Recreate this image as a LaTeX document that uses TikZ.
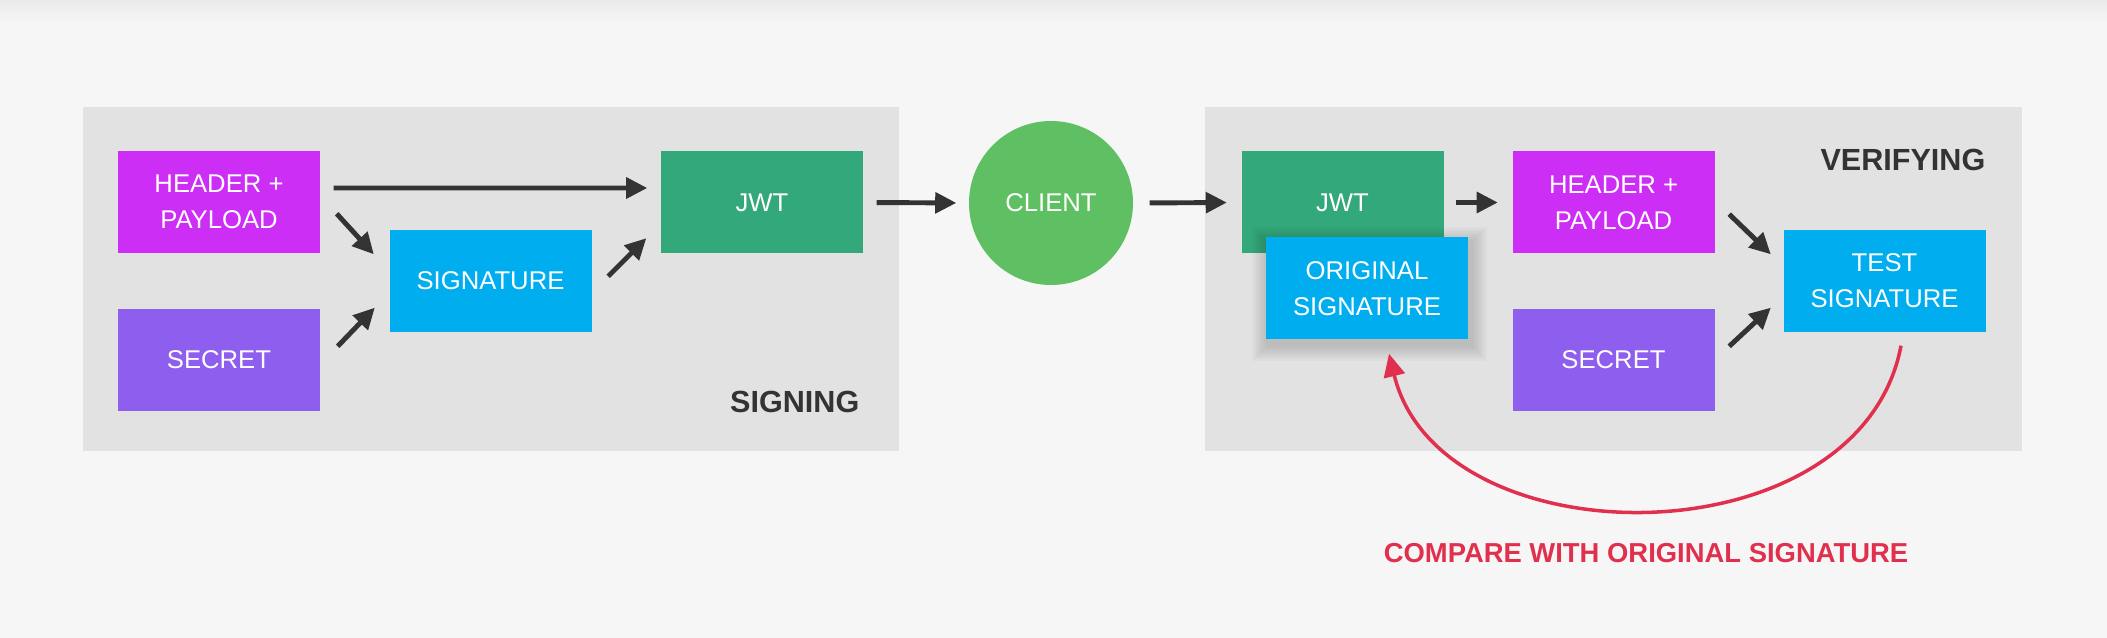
\documentclass[tikz,border=0pt]{standalone}
\usepackage{fontspec}
\setmainfont{Liberation Sans}
\usepackage{xcolor}
\usetikzlibrary{arrows.meta, calc}

\definecolor{bggrey}{HTML}{F6F6F6}
\definecolor{topgrey}{HTML}{EAEAEA}
\definecolor{panelgrey}{HTML}{E2E2E2}
\definecolor{hpcol}{HTML}{CC2EF5}
\definecolor{seccol}{HTML}{8E5FEE}
\definecolor{sigcol}{HTML}{00AEEF}
\definecolor{jwtcol}{HTML}{33A87A}
\definecolor{clientcol}{HTML}{5EC062}
\definecolor{arrowgrey}{HTML}{333333}
\definecolor{labelgrey}{HTML}{333333}
\definecolor{comparered}{HTML}{E0304E}

\begin{document}
\begin{tikzpicture}[
  box/.style={rectangle, fill=#1, text=white, minimum width=2.02cm, minimum height=1.02cm,
    align=center, inner sep=0pt, font=\fontsize{7.3}{10.2}\selectfont},
  arr/.style={-{Triangle[length=6pt,width=5.8pt]}, line width=1.4pt, draw=arrowgrey},
  redarr/.style={-{Triangle[length=6.5pt,width=6pt]}, line width=1pt, draw=comparered},
  steplabel/.style={font=\bfseries\fontsize{8.7}{10}\selectfont, text=labelgrey, inner sep=0pt}
]
% Background
\fill[bggrey] (0,0) rectangle (21.07,6.38);
\shade[top color=topgrey, bottom color=bggrey] (0,6.14) rectangle (21.07,6.38);
\useasboundingbox (0,0) rectangle (21.07,6.38);

% Panels
\fill[panelgrey] (0.83,1.865) rectangle (8.99,5.305);
\fill[panelgrey] (12.05,1.865) rectangle (20.22,5.305);

% Signing
\node[box=hpcol] (hp1) at (2.19,4.36) {HEADER +\\PAYLOAD};
\node[box=seccol] (sec1) at (2.19,2.78) {SECRET};
\node[box=sigcol] (sig1) at (4.905,3.57) {SIGNATURE};
\node[box=jwtcol] (jwt1) at (7.62,4.355) {JWT};
\node[steplabel, anchor=east] (signing) at (8.60,2.36) {SIGNING};

% Client
\node[circle, fill=clientcol, minimum size=1.64cm, inner sep=0pt, text=white,
  font=\fontsize{7.3}{10.2}\selectfont] (client) at (10.51,4.35) {CLIENT};

% Verifying
\node[box=jwtcol] (jwt2) at (13.425,4.355) {JWT};
\coordinate (osigc) at (13.67,3.495);
% soft shadow
\foreach \s in {1,...,8}
  \fill[black, opacity=0.02] ($(osigc)+(-1.01-0.02*\s+0.02,-0.57-0.02*\s)$) rectangle ($(osigc)+(1.04+0.02*\s,0.45+0.02*\s)$);
\node[box=sigcol] (osig) at (osigc) {ORIGINAL\\SIGNATURE};
\node[box=hpcol] (hp2) at (16.135,4.355) {HEADER +\\PAYLOAD};
\node[box=seccol] (sec2) at (16.135,2.78) {SECRET};
\node[box=sigcol] (tsig) at (18.845,3.57) {TEST\\SIGNATURE};
\node[steplabel, anchor=east] (verifying) at (19.86,4.78) {VERIFYING};
\node[font=\bfseries\fontsize{7.8}{9}\selectfont, text=comparered, inner sep=0pt] (compare) at (16.46,0.85) {COMPARE WITH ORIGINAL SIGNATURE};

% Arrows
\draw[arr, shorten <=1.3mm, shorten >=1.3mm] ([yshift=1.4mm]hp1.east) -- ([yshift=1.45mm]jwt1.west);
\draw[arr] ([shift={(0.16,0.40)}]hp1.south east) -- ([shift={(-0.15,-0.25)}]sig1.north west);
\draw[arr] ([shift={(0.17,-0.38)}]sec1.north east) -- ([shift={(-0.14,0.25)}]sig1.south west);
\draw[arr] ([shift={(0.16,-0.47)}]sig1.north east) -- ([shift={(-0.14,0.16)}]jwt1.south west);
\draw[arr, shorten <=1.3mm, shorten >=1.2mm] (jwt1.east) -- (client.west);
\draw[arr, shorten <=1.6mm, shorten >=1.4mm] (client.east) -- (jwt2.west);
\draw[arr, shorten <=1.2mm, shorten >=1.4mm] (jwt2.east) -- (hp2.west);
\draw[arr] ([shift={(0.14,0.40)}]hp2.south east) -- ([shift={(-0.12,-0.25)}]tsig.north west);
\draw[arr] ([shift={(0.14,-0.38)}]sec2.north east) -- ([shift={(-0.12,0.25)}]tsig.south west);

% Compare
\draw[redarr] ([shift={(0.165,-0.13)}]tsig.south) .. controls (18.6,0.75) and (14.4,0.75) .. ([shift={(0.22,-0.135)}]osig.south);
\end{tikzpicture}
\end{document}
